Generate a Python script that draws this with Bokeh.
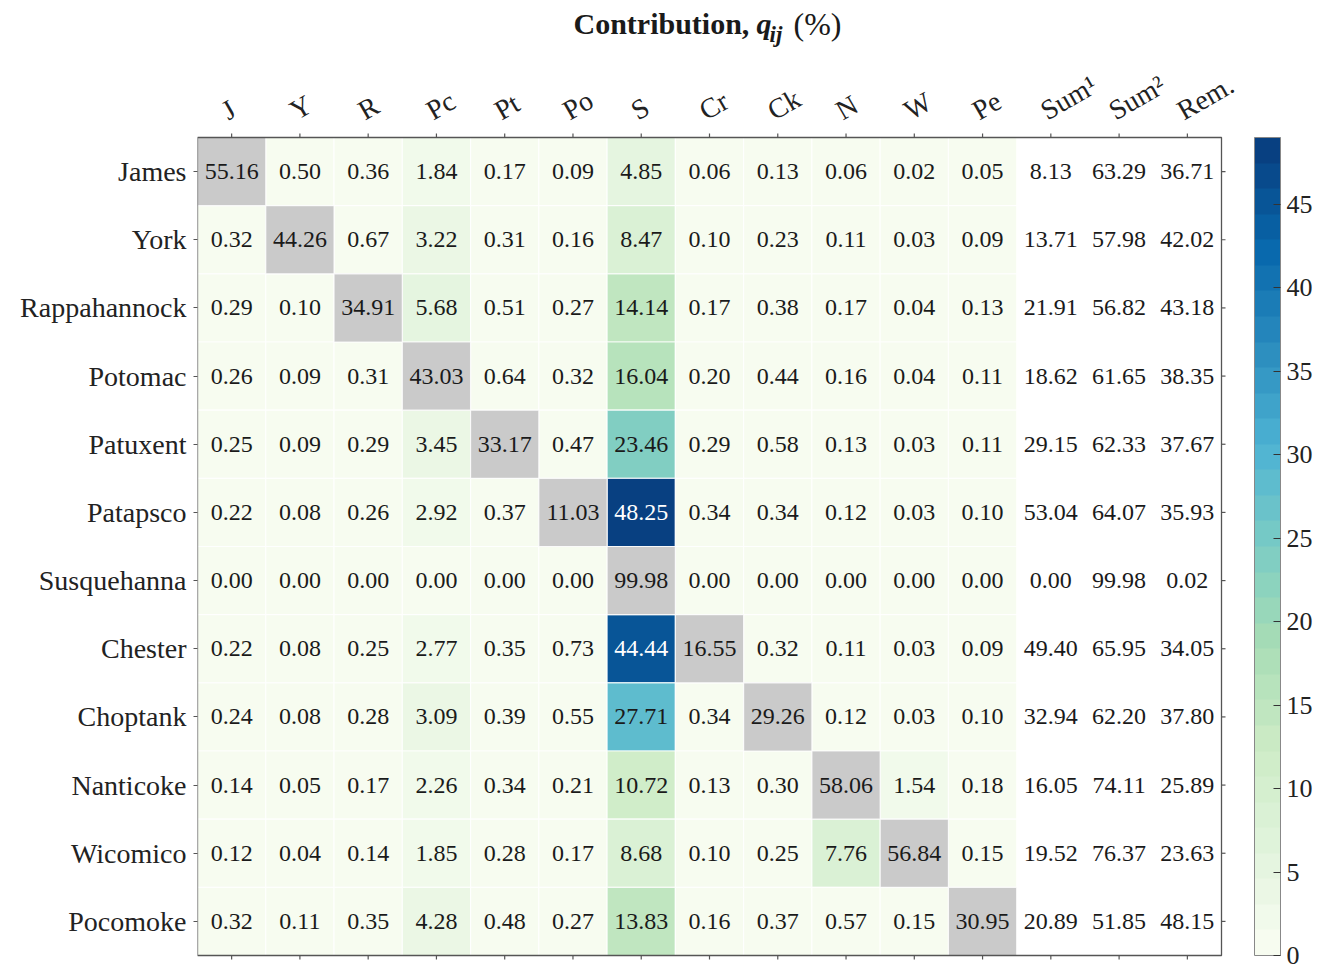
import math
from bokeh.plotting import figure
from bokeh.models import (Range1d, ColumnDataSource, LinearColorMapper, ColorBar,
                          FixedTicker, Label)
from bokeh.transform import transform
from bokeh.core.properties import value
from bokeh.embed import file_html
from bokeh.resources import INLINE
from bokeh.palettes import GnBu9

rivers = ["James", "York", "Rappahannock", "Potomac", "Patuxent", "Patapsco",
          "Susquehanna", "Chester", "Choptank", "Nanticoke", "Wicomico", "Pocomoke"]
sources = ["J", "Y", "R", "Pc", "Pt", "Po", "S", "Cr", "Ck", "N", "W", "Pe"]
extra_cols = ["Sum¹", "Sum²", "Rem."]

james        = [55.16, 0.50, 0.36, 1.84, 0.17, 0.09, 4.85, 0.06, 0.13, 0.06, 0.02, 0.05]
york         = [0.32, 44.26, 0.67, 3.22, 0.31, 0.16, 8.47, 0.10, 0.23, 0.11, 0.03, 0.09]
rappahannock = [0.29, 0.10, 34.91, 5.68, 0.51, 0.27, 14.14, 0.17, 0.38, 0.17, 0.04, 0.13]
potomac      = [0.26, 0.09, 0.31, 43.03, 0.64, 0.32, 16.04, 0.20, 0.44, 0.16, 0.04, 0.11]
patuxent     = [0.25, 0.09, 0.29, 3.45, 33.17, 0.47, 23.46, 0.29, 0.58, 0.13, 0.03, 0.11]
patapsco     = [0.22, 0.08, 0.26, 2.92, 0.37, 11.03, 48.25, 0.34, 0.34, 0.12, 0.03, 0.10]
susquehanna  = [0.00, 0.00, 0.00, 0.00, 0.00, 0.00, 99.98, 0.00, 0.00, 0.00, 0.00, 0.00]
chester      = [0.22, 0.08, 0.25, 2.77, 0.35, 0.73, 44.44, 16.55, 0.32, 0.11, 0.03, 0.09]
choptank     = [0.24, 0.08, 0.28, 3.09, 0.39, 0.55, 27.71, 0.34, 29.26, 0.12, 0.03, 0.10]
nanticoke    = [0.14, 0.05, 0.17, 2.26, 0.34, 0.21, 10.72, 0.13, 0.30, 58.06, 1.54, 0.18]
wicomico     = [0.12, 0.04, 0.14, 1.85, 0.28, 0.17, 8.68, 0.10, 0.25, 7.76, 56.84, 0.15]
pocomoke     = [0.32, 0.11, 0.35, 4.28, 0.48, 0.27, 13.83, 0.16, 0.37, 0.57, 0.15, 30.95]

sum1 = [8.13, 13.71, 21.91, 18.62, 29.15, 53.04, 0.00, 49.40, 32.94, 16.05, 19.52, 20.89]
sum2 = [63.29, 57.98, 56.82, 61.65, 62.33, 64.07, 99.98, 65.95, 62.20, 74.11, 76.37, 51.85]
rem  = [36.71, 42.02, 43.18, 38.35, 37.67, 35.93, 0.02, 34.05, 37.80, 25.89, 23.63, 48.15]

colorbar_ticks = [0, 5, 10, 15, 20, 25, 30, 35, 40, 45]

matrix = [james, york, rappahannock, potomac, patuxent, patapsco,
          susquehanna, chester, choptank, nanticoke, wicomico, pocomoke]

# palette: GnBu stepped into 32 levels
def hex2rgb(h):
    return tuple(int(h[i:i + 2], 16) for i in (1, 3, 5))

base = list(reversed(GnBu9))  # light -> dark
n_levels = 32
pal = []
for k in range(n_levels):
    t = k / (n_levels - 1) * (len(base) - 1)
    i = min(int(t), len(base) - 2)
    f = t - i
    a, b = hex2rgb(base[i]), hex2rgb(base[i + 1])
    c = tuple(round(a[j] + (b[j] - a[j]) * f) for j in range(3))
    pal.append("#%02x%02x%02x" % c)

mapper = LinearColorMapper(palette=pal, low=0, high=49)

cols = sources + extra_cols
ncol, nrow = len(cols), len(rivers)
col_pos = [i + 0.5 for i in range(ncol)]
row_pos = [nrow - 1 - r + 0.5 for r in range(nrow)]

heat = dict(x=[], y=[], v=[])
diag = dict(x=[], y=[])
txt = dict(x=[], y=[], t=[], c=[])
for r, row in enumerate(matrix):
    for c, v in enumerate(row):
        if r == c:
            diag["x"].append(col_pos[c]); diag["y"].append(row_pos[r])
            tc = "#1a1a1a"
        else:
            heat["x"].append(col_pos[c]); heat["y"].append(row_pos[r]); heat["v"].append(v)
            tc = "#ffffff" if v > 40 else "#1a1a1a"
        txt["x"].append(col_pos[c]); txt["y"].append(row_pos[r])
        txt["t"].append(f"{v:.2f}"); txt["c"].append(tc)
    for k, arr in enumerate([sum1, sum2, rem]):
        txt["x"].append(col_pos[len(sources) + k]); txt["y"].append(row_pos[r])
        txt["t"].append(f"{arr[r]:.2f}"); txt["c"].append("#1a1a1a")

FONT = "Liberation Serif"
W, H = 1317, 964
LEFT = 197          # px left of the heat-map
TOP = 137           # px above the heat-map
BOTTOM = 9          # px below the heat-map
cell_w = 1024 / ncol
cell_h = 818 / nrow

x_end = (W - LEFT) / cell_w
y_start = -BOTTOM / cell_h
y_end = nrow + TOP / cell_h

p = figure(x_range=Range1d(0, x_end), y_range=Range1d(y_start, y_end),
           width=W, height=H, x_axis_location=None, y_axis_location="left",
           toolbar_location=None, output_backend="svg", min_border=0,
           min_border_left=LEFT)
p.outline_line_color = None
p.grid.visible = False

p.rect("x", "y", 1, 1, source=ColumnDataSource(heat),
       fill_color=transform("v", mapper), line_color="#ffffff", line_width=1.2, line_alpha=0.8)
p.rect("x", "y", 1, 1, source=ColumnDataSource(diag),
       fill_color="#cacaca", line_color="#ffffff", line_width=1.2, line_alpha=0.8)
p.text("x", "y", text="t", source=ColumnDataSource(txt), text_color="c",
       text_align="center", text_baseline="middle",
       text_font=value(FONT), text_font_size="24px")

# frame around the table
p.rect(x=[ncol / 2], y=[nrow / 2], width=ncol, height=nrow, fill_color=None,
       line_color="#555555", line_width=1.3)

# ticks (outward) on top, bottom and right edges
tick_kw = dict(length=4, length_units="screen", line_color="#555555", line_width=1.2)
p.ray(x=col_pos, y=[nrow] * ncol, angle=math.pi / 2, **tick_kw)
p.ray(x=col_pos, y=[0] * ncol, angle=-math.pi / 2, **tick_kw)
p.ray(x=[ncol] * nrow, y=row_pos, angle=0, **tick_kw)

# column labels (rotated)
p.text(x=col_pos, y=[nrow] * ncol, text=cols, angle=math.pi / 6,
       x_offset=-8, y_offset=-25, text_align="left", text_baseline="middle",
       text_font=value(FONT), text_font_size="28px", text_color="#222222")

# row labels on the left axis
ax = p.yaxis[0]
ax.ticker = FixedTicker(ticks=row_pos)
ax.major_label_overrides = {float(y): n for y, n in zip(row_pos, rivers)}
ax.axis_line_color = None
ax.major_tick_in = 0
ax.major_tick_out = 4
ax.major_tick_line_color = "#555555"
ax.minor_tick_line_color = None
ax.major_label_text_font = FONT
ax.major_label_text_font_size = "28px"
ax.major_label_text_color = "#222222"
ax.major_label_standoff = 7

# colour bar
cb = ColorBar(color_mapper=mapper, ticker=FixedTicker(ticks=colorbar_ticks),
              location=(1254 - LEFT, BOTTOM), width=26, height=818,
              padding=0, margin=0, label_standoff=6,
              major_label_text_font=FONT, major_label_text_font_size="26px",
              major_label_text_color="#222222",
              major_tick_in=7, major_tick_out=0, major_tick_line_color="#333333",
              minor_tick_line_color=None, bar_line_color="#888888",
              border_line_color=None, background_fill_color=None)
p.add_layout(cb, "center")

# title pieces
ty = nrow + (TOP - 23) / cell_h
ty_sub = nrow + (TOP - 34) / cell_h
common = dict(x=0, text_font=FONT, text_color="#1a1a1a", text_baseline="alphabetic")
p.add_layout(Label(y=ty, x_offset=573 - LEFT, text="Contribution,", text_font_size="30px",
                   text_font_style="bold", **common))
p.add_layout(Label(y=ty, x_offset=756 - LEFT, text="q", text_font_size="30px",
                   text_font_style="bold italic", **common))
p.add_layout(Label(y=ty_sub, x_offset=769 - LEFT, text="ij", text_font_size="23px",
                   text_font_style="bold italic", **common))
p.add_layout(Label(y=ty, x_offset=793 - LEFT, text="(%)", text_font_size="32px", **common))

open("out.html", "w").write(file_html(p, INLINE))
